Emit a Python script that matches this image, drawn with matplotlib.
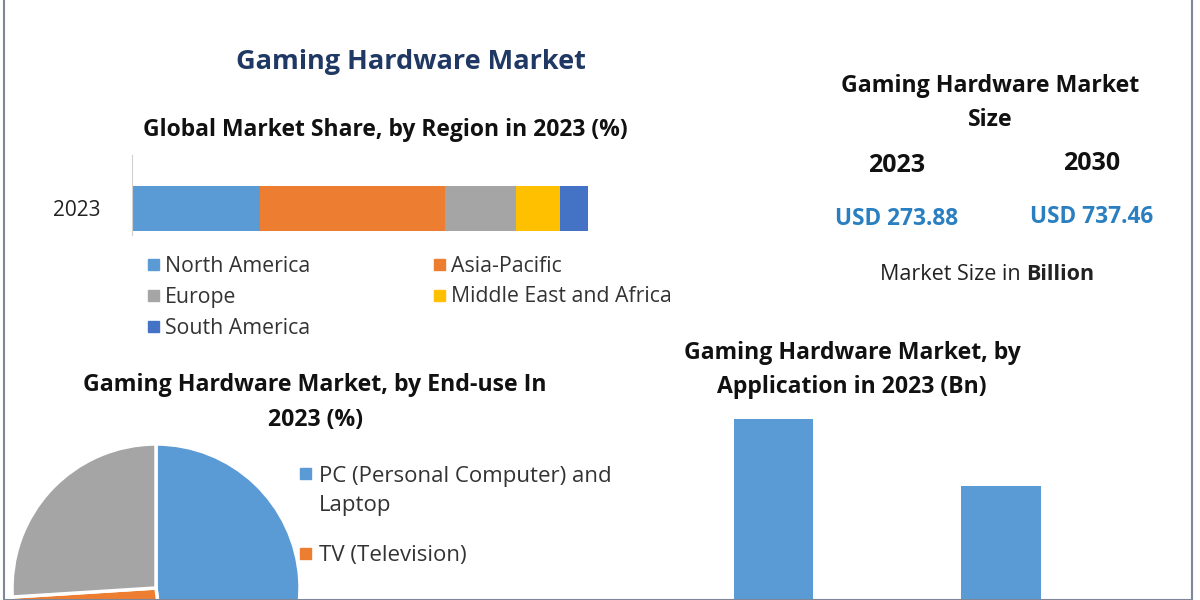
import matplotlib.pyplot as plt
from matplotlib.patches import Rectangle

plt.rcParams['font.family'] = ['Open Sans', 'DejaVu Sans']

# data
regions = ["North America", "Asia-Pacific", "Europe", "Middle East and Africa", "South America"]
region_share = [28.1, 40.5, 15.6, 9.7, 6.1]
region_colors = ["#5b9bd5", "#ed7d31", "#a5a5a5", "#ffc000", "#4472c4"]

enduse = ["PC (Personal Computer) and\nLaptop", "TV (Television)", "Others"]
enduse_share = [48, 26, 26]
enduse_colors = ["#5b9bd5", "#ed7d31", "#a5a5a5"]

app_values = [150, 114]

size_years = ["2023", "2030"]
size_values = ["USD 273.88", "USD 737.46"]

W, H = 1200, 600
fig = plt.figure(figsize=(12, 6), dpi=100)


def px(x, y):
    return x / W, 1 - y / H


def axes_px(left, top, right, bottom):
    return fig.add_axes([left / W, 1 - bottom / H, (right - left) / W, (bottom - top) / H])


def text(x, y, s, **kw):
    # text centres sit ~2px high with va=center, nudge down
    kw.setdefault("ha", "center")
    kw.setdefault("va", "center")
    return fig.text(*px(x, y + 2), s, **kw)


def legend_square(x, y, color, size=11):
    fx, fy = px(x - size / 2, y + size / 2)
    fig.add_artist(Rectangle((fx, fy), size / W, size / H, color=color, transform=fig.transFigure))


# frame
fig.add_artist(Rectangle(px(4, 600), 1188 / W, 1.1, fill=False, edgecolor="#7d8799",
                         linewidth=1.5, transform=fig.transFigure))

# titles
text(411, 60, "Gaming Hardware Market", fontsize=19.5, fontweight="bold", color="#1f3864")
text(385, 128, "Global Market Share, by Region in 2023 (%)", fontsize=16.5, fontweight="bold", color="#111111")

# stacked bar by region
ax1 = axes_px(132, 155, 588, 235)
left = 0
for name, val, c in zip(regions, region_share, region_colors):
    ax1.barh([0], [val], left=left, height=0.84, color=c)
    left += val
ax1.set_xlim(0, 100)
ax1.set_ylim(-0.5, 1.0)
ax1.set_yticks([0])
ax1.set_yticklabels(["2023"], fontsize=15, color="#222222")
ax1.tick_params(axis="y", length=0, pad=23)
ax1.set_xticks([])
for s in ["top", "right", "bottom"]:
    ax1.spines[s].set_visible(False)
ax1.spines["left"].set_color("#d0d0d0")
ax1.patch.set_alpha(0)

for i, (name, c) in enumerate(zip(regions, region_colors)):
    x = 153 + (i % 2) * 286
    y = 264 + (i // 2) * 31
    legend_square(x, y, c)
    text(x + 12, y, name, ha="left", fontsize=15.3, color="#333333")

# market size panel
text(990, 84, "Gaming Hardware Market", fontsize=16.7, fontweight="bold", color="#111111")
text(990, 118, "Size", fontsize=16.7, fontweight="bold", color="#111111")
for x, yr, val, dy in zip([897, 1092], size_years, size_values, [0, -2]):
    text(x, 163 + dy, yr, fontsize=18, fontweight="bold", color="#111111")
    text(x, 217 + dy, val, fontsize=16.3, fontweight="bold", color="#2a7fc1")
t = text(880, 273, "Market Size in ", ha="left", fontsize=15.5, color="#222222")
fig.canvas.draw()
bb = t.get_window_extent()
fig.text(bb.x1 / W, 1 - 275 / H, "Billion", ha="left", va="center", fontsize=15.5,
         fontweight="bold", color="#222222")

# end-use pie
text(315, 383, "Gaming Hardware Market, by End-use In", fontsize=16.7, fontweight="bold", color="#111111")
text(315, 418, "2023 (%)", fontsize=16.7, fontweight="bold", color="#111111")
ax2 = axes_px(12, 444, 300, 732)
ax2.pie(enduse_share, colors=enduse_colors, startangle=90, counterclock=False,
        wedgeprops=dict(edgecolor="white", linewidth=2.5))
ax2.set_xlim(-1, 1)
ax2.set_ylim(-1, 1)
ax2.set_aspect("equal")
for (name, c), y in zip(zip(enduse[:2], enduse_colors[:2]), [473, 553]):
    legend_square(305, y, c)
    text(319, y + (16 if "\n" in name else 0), name, ha="left", fontsize=16, color="#333333",
         linespacing=1.45)

# application bar chart
text(852, 351, "Gaming Hardware Market, by", fontsize=16.6, fontweight="bold", color="#111111")
text(852, 385, "Application in 2023 (Bn)", fontsize=16.6, fontweight="bold", color="#111111")
ax3 = axes_px(662, 400, 1115, 700)
ax3.bar([0, 1], app_values, width=0.35, color="#5b9bd5")
ax3.set_xlim(-0.49, 1.5)
ax3.set_ylim(0, 160)
ax3.axis("off")

fig.savefig("out.png", dpi=100)
